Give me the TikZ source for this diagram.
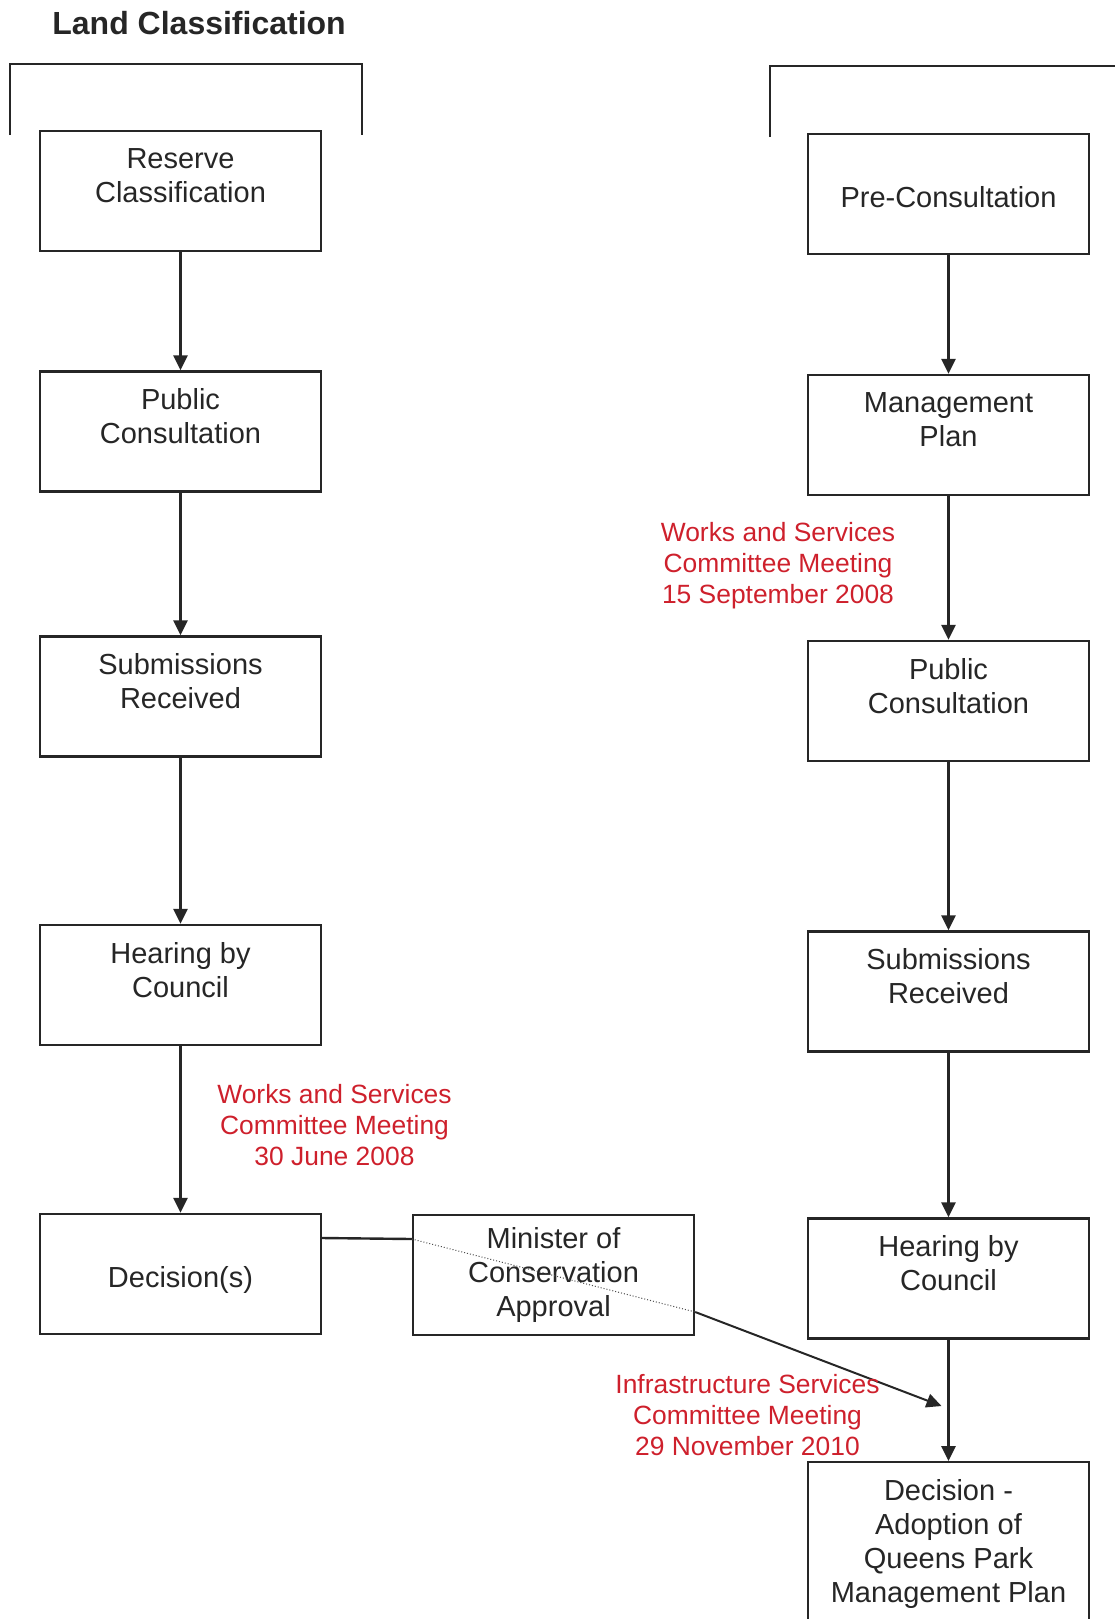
\documentclass[tikz,border=0pt]{standalone}
\usepackage{fontspec}
\setmainfont{Liberation Sans}
\usetikzlibrary{arrows.meta,positioning}
\definecolor{meetred}{RGB}{206,32,44}
\tikzset{
  stage/.style={draw=black!85, line width=1.2pt, minimum width=140.5pt,
                minimum height=60pt, align=center, inner sep=3pt,
                text=black!85, font=\fontsize{14.5}{17}\selectfont},
  oneline/.style={text height=16pt, text depth=3pt},
  flow/.style={-{Triangle[length=7.5pt,width=7pt]}, draw=black!85,
               line width=1.3pt},
  meet/.style={align=center, text=meetred, inner sep=1pt,
               font=\fontsize{13.2}{15.5}\selectfont},
  topbar/.style={draw=black!85, line width=1pt},
}

\begin{document}
\begin{tikzpicture}[x=0.5pt, y=-0.5pt]
\useasboundingbox (0,0) rectangle (1115,1619);
\node[font=\fontsize{16}{19}\selectfont\bfseries, text=black!85, anchor=west,
      inner sep=0pt] (title) at (52,23) {Land Classification};
\draw[topbar] (10,135) -- (10,64) -- (362,64) -- (362,135);
\draw[topbar] (770,137) -- (770,66) -- (1115,66);
% land classification column
\foreach \i/\y/\t in {1/191/{Reserve\\Classification\\[-7pt]\strut},
                      2/431.5/{Public\\Consultation\\[-7pt]\strut},
                      3/696.5/{Submissions\\Received\\[-7pt]\strut},
                      4/985/{Hearing by\\Council\\[-7pt]\strut}} {
  \node[stage] (l\i) at (180.5,\y) {\t};
}
\node[stage, oneline] (l5) at (180.5,1274) {Decision(s)};
% management plan column
\node[stage, oneline] (r1) at (948.5,194) {Pre-Consultation};
\foreach \i/\y/\t in {2/435/{Management\\Plan\\[-7pt]\strut},
                      3/701/{Public\\Consultation\\[-7pt]\strut},
                      4/991.5/{Submissions\\Received\\[-7pt]\strut},
                      5/1278.5/{Hearing by\\Council\\[-7pt]\strut}} {
  \node[stage] (r\i) at (948.5,\y) {\t};
}
\node[stage, anchor=north, inner ysep=8.5pt] (r6) at (948.5,1461)
  {Decision -\\Adoption of\\Queens Park\\Management Plan};
\node[stage] (mc) at (553.5,1275) {Minister of\\Conservation\\Approval};
\foreach \i in {1,...,4} {
  \pgfmathtruncatemacro\j{\i+1}
  \draw[flow] (l\i) -- (l\j);
}
\foreach \i in {1,...,5} {
  \pgfmathtruncatemacro\j{\i+1}
  \draw[flow] (r\i) -- (r\j);
}
% minister approval link
\coordinate (join) at (941.5,1406);
\draw[draw=black!85, line width=1.2pt] ([yshift=18pt]l5.east) -- ([yshift=18pt]mc.west);
\draw[black!70, densely dotted, line width=0.5pt] ([yshift=18pt]mc.west)
  -- ([yshift=-18.5pt]mc.east);
\draw[flow, line width=1pt] ([yshift=-18.5pt]mc.east) -- (join);
% committee meetings
\node[meet] (m1) at (778,566) {Works and Services\\Committee Meeting\\15 September 2008};
\node[meet] (m2) at (334.5,1125) {Works and Services\\Committee Meeting\\30 June 2008};
\node[meet] (m3) at (747.5,1415) {Infrastructure Services\\Committee Meeting\\29 November 2010};
\end{tikzpicture}
\end{document}
